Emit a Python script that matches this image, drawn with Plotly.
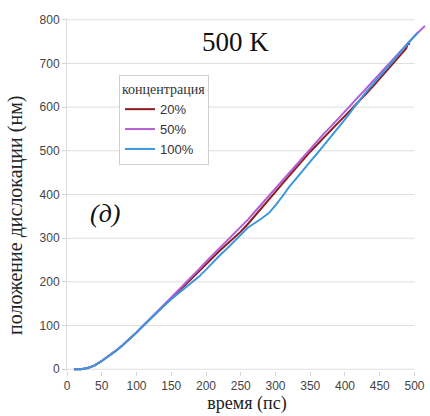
import plotly.graph_objects as go

# time axis (ps) and dislocation position (nm) for each concentration
t_20 = [10, 20, 30, 40, 50, 60, 70, 80, 90, 100, 110, 120, 130, 140, 150, 160, 170, 180, 190, 200,
        210, 220, 230, 240, 250, 260, 270, 280, 290, 300, 310, 320, 330, 340, 350, 360, 370, 380,
        390, 400, 410, 420, 430, 440, 450, 460, 470, 480, 488, 491, 493]
y_20 = [0, 0, 3, 9, 19, 30, 42, 55, 69, 84, 100, 116, 131, 147, 162, 178, 193, 209, 226, 242,
        257, 272, 286, 300, 315, 332, 350, 368, 387, 406, 425, 444, 462, 480, 498, 515, 532, 548,
        564, 580, 596, 612, 630, 647, 665, 682, 700, 718, 734, 748, 743]

t_50 = [10, 20, 30, 40, 50, 60, 70, 80, 90, 100, 110, 120, 130, 140, 150, 160, 170, 180, 190, 200,
        210, 220, 230, 240, 250, 260, 270, 280, 290, 300, 310, 320, 330, 340, 350, 360, 370, 380,
        390, 400, 410, 420, 430, 440, 450, 460, 470, 480, 490, 500, 510, 515]
y_50 = [0, 0, 3, 9, 19, 30, 42, 55, 69, 84, 100, 116, 132, 148, 163, 179, 195, 212, 229, 246,
        262, 278, 293, 308, 325, 342, 360, 378, 396, 415, 434, 452, 470, 488, 506, 523, 540, 556,
        573, 590, 607, 624, 641, 658, 676, 694, 711, 728, 745, 763, 778, 786]

t_100 = [10, 20, 30, 40, 50, 60, 70, 80, 90, 100, 110, 120, 130, 140, 150, 160, 170, 180, 190, 200,
         210, 220, 230, 240, 250, 260, 270, 280, 290, 300, 310, 320, 330, 340, 350, 360, 370, 380,
         390, 400, 410, 420, 430, 440, 450, 460, 470, 480, 490, 500, 505]
y_100 = [0, 0, 3, 9, 19, 30, 42, 55, 69, 84, 100, 116, 131, 146, 160, 173, 186, 198, 212, 228,
         245, 261, 276, 291, 308, 324, 334, 345, 357, 375, 396, 418, 437, 455, 475, 494, 513, 533,
         553, 572, 593, 614, 634, 652, 670, 689, 707, 726, 745, 763, 771]

series_names = ["20%", "50%", "100%"]
series_colors = ["#8e1b1f", "#b25fd6", "#3b97de"]

x_ticks = list(range(0, 501, 50))
y_ticks = list(range(0, 801, 100))

SERIF = "Liberation Serif, DejaVu Serif, serif"
SANS = "Liberation Sans, Arial, sans-serif"

W, H = 430, 416
M_L, M_R, M_T, M_B = 67, 3, 18, 45
plot_w = W - M_L - M_R
plot_h = H - M_T - M_B


def px_x(px):
    """Horizontal pixel position -> paper coordinate."""
    return (px - M_L) / plot_w


def px_y(px):
    """Vertical pixel position (from top) -> paper coordinate."""
    return (H - M_B - px) / plot_h


fig = go.Figure()
for name, color, xs, ys in zip(series_names, series_colors,
                               [t_20, t_50, t_100], [y_20, y_50, y_100]):
    fig.add_trace(go.Scatter(x=xs, y=ys, mode="lines", name=name,
                             line=dict(color=color, width=2)))

# horizontal grid lines, limited to the tick span of the time axis
for v in y_ticks:
    fig.add_shape(type="line", xref="x", yref="y", x0=x_ticks[0], x1=x_ticks[-1], y0=v, y1=v,
                  line=dict(color="#dedede", width=1), layer="below")

fig.update_layout(
    width=W, height=H,
    margin=dict(l=M_L, r=M_R, t=M_T, b=M_B),
    paper_bgcolor="white", plot_bgcolor="white",
    showlegend=True,
    legend=dict(
        x=px_x(119), y=px_y(75), xanchor="left", yanchor="top",
        bgcolor="white", bordercolor="#cfcfcf", borderwidth=1,
        title=dict(text="концентрация", font=dict(family=SERIF, size=14, color="#333")),
        font=dict(family=SANS, size=13, color="#333"),
        tracegroupgap=0,
    ),
    annotations=[
        dict(text="500 K", x=px_x(235), y=px_y(42), xref="paper", yref="paper",
             xanchor="center", yanchor="middle", showarrow=False,
             font=dict(family=SERIF, size=27, color="#111")),
        dict(text="<i>(д)</i>", x=px_x(105), y=px_y(213), xref="paper", yref="paper",
             xanchor="center", yanchor="middle", showarrow=False,
             font=dict(family=SERIF, size=26, color="#111")),
        dict(text="положение дислокации (нм)", textangle=-90, x=px_x(15), y=px_y(216),
             xref="paper", yref="paper", xanchor="center", yanchor="middle", showarrow=False,
             font=dict(family=SERIF, size=20, color="#222")),
    ],
)

fig.update_xaxes(
    range=[0, 518], tickvals=x_ticks, ticktext=[str(v) for v in x_ticks],
    showgrid=False, zeroline=False,
    showline=False, ticks="outside", ticklen=4, tickcolor="#d5d5d5",
    tickfont=dict(family=SANS, size=12, color="#444"),
    title=dict(text="время (пс)", font=dict(family=SERIF, size=18, color="#222"), standoff=0),
)
fig.update_yaxes(
    range=[-4, 804], tickvals=y_ticks, ticktext=[str(v) for v in y_ticks],
    showgrid=False, zeroline=False,
    showline=True, linecolor="#dedede", linewidth=1,
    ticks="outside", ticklen=4, tickcolor="#d5d5d5",
    tickfont=dict(family=SANS, size=12, color="#444"),
)

fig.write_html("out.html")
